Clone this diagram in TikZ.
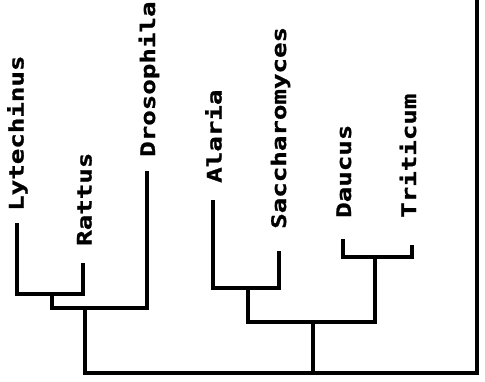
\documentclass[tikz,border=0pt]{standalone}
\usepackage{fontspec}
\newfontfamily\plotfont[FakeStretch=1.29,BoldFeatures={FakeBold=1.2}]{DejaVu Sans Mono}
\begin{document}
\begin{tikzpicture}[x=1pt,y=-1pt,
  branch/.style={line width=3.6pt, line cap=rect, line join=miter},
  lab/.style={font=\plotfont\bfseries\fontsize{20}{22}\selectfont, rotate=90, anchor=base west, inner sep=0pt}]
\useasboundingbox (0,0) rectangle (485,381);
% labels
\node[lab] (Llyt) at (23.5,211) {Lytechinus};
\node[lab] (Lrat) at (91.5,246) {Rattus};
\node[lab] (Ldro) at (155,157) {Drosophila};
\node[lab] (Lala) at (221.5,183) {Alaria};
\node[lab] (Lsac) at (286,229) {Saccharomyces};
\node[lab] (Ldau) at (351,218) {Daucus};
\node[lab] (Ltri) at (416,218) {Triticum};
% leaf tips
\coordinate (lyt) at (17,225);
\coordinate (rat) at (83,265);
\coordinate (dro) at (147,173);
\coordinate (ala) at (213,202);
\coordinate (sac) at (279,253);
\coordinate (dau) at (343,241);
\coordinate (tri) at (412,247);
% internal points
\coordinate (lr) at (52,294);
\coordinate (lrd) at (85,308);
\coordinate (as) at (248,288);
\coordinate (dt) at (375,257);
\coordinate (asdt) at (313,322);
\coordinate (root) at (313,373);
\coordinate (rb) at (477,373);
\coordinate (rt) at (477,-4);
% branches
\draw[branch] (lyt) |- (lr) -| (rat);
\draw[branch] (lr) |- (lrd) -| (dro);
\draw[branch] (ala) |- (as) -| (sac);
\draw[branch] (dau) |- (dt) -| (tri);
\draw[branch] (as) |- (asdt) -| (dt);
\draw[branch] (asdt) -- (root);
\draw[branch] (lrd) |- (root) -- (rb) -- (rt);
\end{tikzpicture}
\end{document}
